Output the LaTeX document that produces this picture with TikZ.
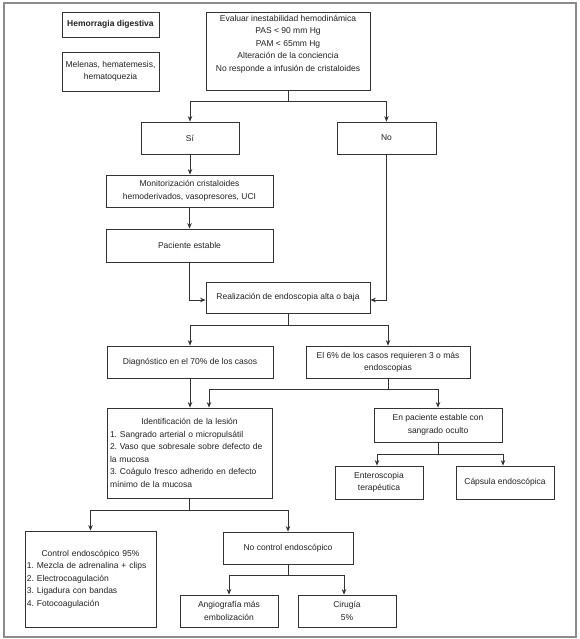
\documentclass[tikz,border=0pt]{standalone}
\usepackage{fontspec}
\setmainfont{Liberation Sans}
\usetikzlibrary{arrows.meta}
\definecolor{boxc}{HTML}{333333}
\definecolor{txt}{HTML}{222222}
\definecolor{framec}{HTML}{8C8C8C}
\frenchspacing
\begin{document}
\begin{tikzpicture}[x=1pt,y=-1pt,
  box/.style={draw=boxc, line width=0.8pt, fill=white, text=txt,
    font=\fontsize{8.5}{12.5}\selectfont, align=center, inner sep=2pt},
  conn/.style={draw=boxc, line width=0.8pt},
  arr/.style={conn, -{Stealth[length=5.5pt,width=4.5pt]}}]
\useasboundingbox (0,0) rectangle (580,639);
\draw[framec, line width=2pt] (3.5,3.5) rectangle (575.5,636.5);

\node[box, minimum width=97pt, minimum height=25pt] (hd) at (110.5,24.5) {\textbf{Hemorragia digestiva}};
\node[box, minimum width=97pt, minimum height=39pt] (mel) at (110.5,71.5) {Melenas, hematemesis,\\hematoquezia};
\node[box, minimum width=164pt, minimum height=78pt] (eval) at (288,51) {Evaluar inestabilidad hemodinámica\\PAS < 90 mm Hg\\PAM < 65mm Hg\\Alteración de la conciencia\\No responde a infusión de cristaloides\\[3pt]\mbox{}};
\node[box, minimum width=98pt, minimum height=32pt] (si) at (190,138) {Sí};
\node[box, minimum width=99pt, minimum height=32pt] (no) at (386.5,138) {No};
\node[box, minimum width=167pt, minimum height=32pt] (mon) at (189.5,191) {Monitorización cristaloides\\hemoderivados, vasopresores, UCI};
\node[box, minimum width=167pt, minimum height=33pt] (pac) at (189.5,245.5) {Paciente estable};
\node[box, minimum width=164pt, minimum height=31pt] (real) at (288,297.5) {Realización de endoscopia alta o baja};
\node[box, minimum width=166pt, minimum height=32pt] (diag) at (190,362) {Diagnóstico en el 70\% de los casos};
\node[box, minimum width=164pt, minimum height=32pt] (six) at (388,362) {El 6\% de los casos requieren 3 o más\\endoscopias};
\node[box, minimum width=165pt, minimum height=90pt, text width=159pt, align=left] (iden) at (189.5,453) {\makebox[\linewidth][c]{Identificación de la lesión}\\1. Sangrado arterial o micropulsátil\\2. Vaso que sobresale sobre defecto de\\la mucosa\\3. Coágulo fresco adherido en defecto\\mínimo de la mucosa};
\node[box, minimum width=128pt, minimum height=34pt] (enp) at (438,425) {En paciente estable con\\sangrado oculto};
\node[box, minimum width=88pt, minimum height=33pt] (ent) at (379,482.5) {Enteroscopia\\terapéutica};
\node[box, minimum width=98pt, minimum height=33pt] (cap) at (505,482.5) {Cápsula endoscópica};
\node[box, minimum width=131pt, minimum height=96pt, text width=127pt, align=left] (ctrl) at (90.5,579) {\makebox[\linewidth][c]{Control endoscópico 95\%}\\1. Mezcla de adrenalina + clips\\2. Electrocoagulación\\3. Ligadura con bandas\\4. Fotocoagulación};
\node[box, minimum width=130pt, minimum height=32pt] (noc) at (288,548) {No control endoscópico};
\node[box, minimum width=98pt, minimum height=32pt] (ang) at (229,611) {Angiografía más\\embolización};
\node[box, minimum width=98pt, minimum height=32pt] (cir) at (347,611) {Cirugía\\5\%};

% connectors
\draw[conn] (eval.south) -- ++(0,11) coordinate (j1);
\draw[arr] (j1) -| (si.north);
\draw[arr] (j1) -| (no.north);
\draw[arr] (si.south) -- (si.south |- mon.north);
\draw[arr] (mon.south) -- (pac.north);
\draw[arr] (pac.south) |- ([yshift=-2.5pt]real.west);
\draw[arr] (no.south) |- ([yshift=-2.5pt]real.east);
\draw[conn] (real.south) -- ++(0,12) coordinate (j2);
\draw[arr] (j2) -| (diag.north);
\draw[arr] (j2) -| (six.north);
\draw[arr] (diag.south) -- (diag.south |- iden.north);
\draw[conn] (six.south) -- ++(0,11) coordinate (j3);
\draw[arr] (j3) -| ([xshift=19.5pt]iden.north);
\draw[arr] (j3) -| (enp.north);
\draw[conn] (enp.south) -- ++(0,12) coordinate (j4);
\draw[arr] (j4) -| ([xshift=-2pt]ent.north);
\draw[arr] (j4) -| ([xshift=-2pt]cap.north);
\draw[conn] (iden.south) -- ++(0,12) coordinate (j5);
\draw[arr] (j5) -| (ctrl.north);
\draw[arr] (j5) -| (noc.north);
\draw[conn] (noc.south) -- ++(0,11) coordinate (j6);
\draw[arr] (j6) -| (ang.north);
\draw[arr] (j6) -| ([xshift=-3pt]cir.north);
\end{tikzpicture}
\end{document}
